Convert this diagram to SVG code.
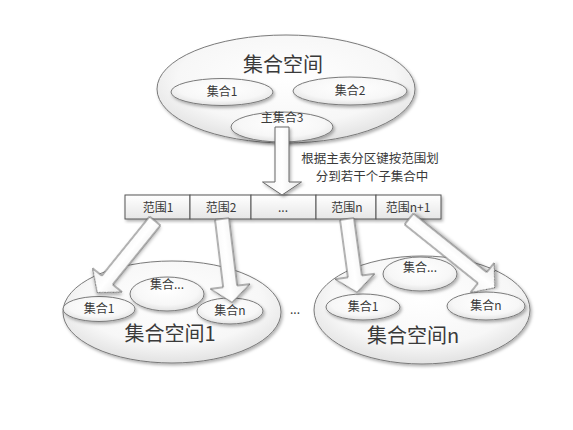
<svg xmlns="http://www.w3.org/2000/svg" width="573" height="430" viewBox="0 0 573 430">
<defs>
<radialGradient id="eg" cx="50%" cy="40%" r="60%">
<stop offset="0%" stop-color="#ffffff"/>
<stop offset="70%" stop-color="#f7f7f7"/>
<stop offset="100%" stop-color="#e2e2e2"/>
</radialGradient>
<linearGradient id="cg" x1="0" y1="0" x2="0" y2="1">
<stop offset="0%" stop-color="#ffffff"/>
<stop offset="100%" stop-color="#e6e6e6"/>
</linearGradient>
<linearGradient id="ag" x1="0" y1="0" x2="1" y2="0">
<stop offset="0%" stop-color="#f2f2f2"/>
<stop offset="50%" stop-color="#ffffff"/>
<stop offset="100%" stop-color="#e8e8e8"/>
</linearGradient>
<filter id="sh" x="-20%" y="-20%" width="140%" height="140%">
<feDropShadow dx="1.5" dy="2" stdDeviation="1.5" flood-color="#000" flood-opacity="0.3"/>
</filter>
</defs>
<style>
.e{fill:url(#eg);stroke:#7a7a7a;stroke-width:1;filter:url(#sh)}
.c{fill:url(#cg);stroke:#555;stroke-width:1}
.a{fill:url(#ag);stroke:#666;stroke-width:1;stroke-linejoin:miter;filter:url(#sh)}
text{font-family:"Noto Sans CJK SC","Liberation Sans",sans-serif;fill:#3a3a3a;text-anchor:middle}
.big{font-size:20px}
.sm{font-size:12px}
.md{font-size:12.5px}
</style>
<rect width="573" height="430" fill="#ffffff"/>

<g id="space-top">
<ellipse class="e" cx="286" cy="89" rx="129" ry="54"/>
<text class="big" x="283" y="72">集合空间</text>
</g>
<g id="set1-top">
<ellipse class="e" cx="222" cy="92" rx="51" ry="13.5"/>
<text class="sm" x="222" y="96">集合1</text>
</g>
<g id="set2-top">
<ellipse class="e" cx="350" cy="91" rx="57" ry="14"/>
<text class="sm" x="350" y="95">集合2</text>
</g>
<g id="set3-top">
<ellipse class="e" cx="282" cy="127" rx="51" ry="15"/>
<text class="sm" x="282" y="122">主集合3</text>
</g>

<g id="space1">
<ellipse class="e" cx="172" cy="312" rx="109" ry="51"/>
<text class="big" x="170" y="341">集合空间1</text>
</g>
<g id="s1-set1">
<ellipse class="e" cx="99" cy="309" rx="36" ry="12.5"/>
<text class="sm" x="99" y="313">集合1</text>
</g>
<g id="s1-setx">
<ellipse class="e" cx="167" cy="294" rx="37" ry="17"/>
<text class="sm" x="167" y="289">集合...</text>
</g>
<g id="s1-setn">
<ellipse class="e" cx="230" cy="311" rx="33" ry="13"/>
<text class="sm" x="230" y="315">集合n</text>
</g>

<g id="spacen">
<ellipse class="e" cx="422" cy="310" rx="108" ry="54"/>
<text class="big" x="413" y="343">集合空间n</text>
</g>
<g id="sn-set1">
<ellipse class="e" cx="363" cy="307" rx="37" ry="13"/>
<text class="sm" x="363" y="311">集合1</text>
</g>
<g id="sn-setx">
<ellipse class="e" cx="420" cy="274" rx="37" ry="17"/>
<text class="sm" x="420" y="272">集合...</text>
</g>
<g id="sn-setn">
<ellipse class="e" cx="486" cy="306" rx="39" ry="14"/>
<text class="sm" x="486" y="310">集合n</text>
</g>

<g id="dots">
<text class="sm" x="295" y="314">...</text>
</g>

<g id="ranges" filter="url(#sh)">
<rect class="c" x="125" y="195" width="65" height="24"/>
<rect class="c" x="190" y="195" width="61" height="24"/>
<rect class="c" x="251" y="195" width="65" height="24"/>
<rect class="c" x="316" y="195" width="60" height="24"/>
<rect class="c" x="376" y="195" width="65" height="24"/>
</g>
<g id="range-labels">
<text class="sm" x="158" y="212">范围1</text>
<text class="sm" x="221" y="212">范围2</text>
<text class="sm" x="283" y="212">...</text>
<text class="sm" x="347" y="212">范围n</text>
<text class="sm" x="408" y="212">范围n+1</text>
</g>

<g id="connectors">
<polygon class="a" points="-7,0 7,0 7,55 19.5,55 0,68 -19.5,55 -7,55" transform="translate(282,127)"/>
<polygon class="a" points="-7,0 7,0 7,76 19,76 0,92 -19,76 -7,76" transform="translate(155,221) rotate(38.9)"/>
<polygon class="a" points="-7,0 7,0 7,68 20,68 0,84 -20,68 -7,68" transform="translate(222,219) rotate(-6.9)"/>
<polygon class="a" points="-7,0 7,0 7,58 20,58 0,74 -20,58 -7,58" transform="translate(347,219) rotate(-7.8)"/>
<polygon class="a" points="-7,0 7,0 7,94 19,94 0,110 -19,94 -7,94" transform="translate(409,219) rotate(-51.3)"/>
</g>

<g id="caption">
<text class="md" x="370" y="163">根据主表分区键按范围划</text>
<text class="md" x="372" y="181">分到若干个子集合中</text>
</g>
</svg>
